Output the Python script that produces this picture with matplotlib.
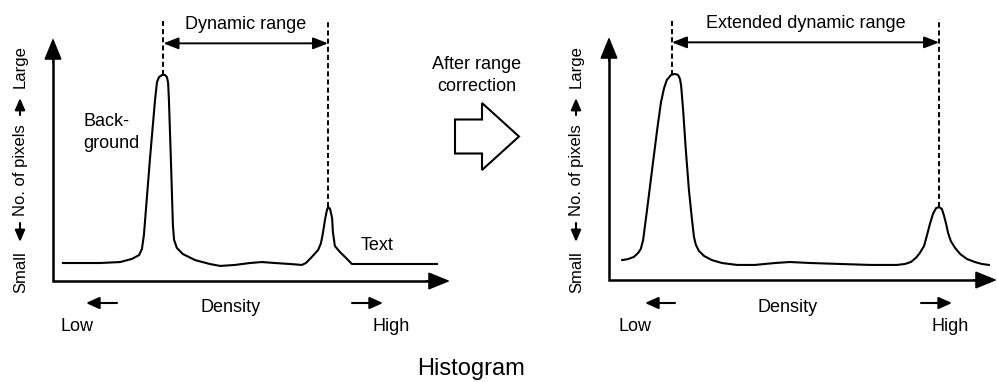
import matplotlib
matplotlib.use("Agg")
import matplotlib.pyplot as plt
from matplotlib.patches import FancyArrow

plt.rcParams['font.family'] = ['Liberation Sans', 'DejaVu Sans']

# Histogram before range correction (density 0-100, relative pixel count 0-100)
before_density = [2.5, 11.8, 16.9, 19.9, 21.7, 22.4, 22.9, 24.4, 25.7, 26.2, 26.7, 27.5,
                  28.2, 28.7, 29.0, 29.2, 29.7, 30.2, 30.5, 31.2, 32.7, 35.8, 39.5, 42.1,
                  45.8, 49.6, 52.6, 55.9, 59.7, 62.7, 63.7, 65.2, 66.8, 67.5, 68.0, 68.5,
                  69.0, 69.3, 69.8, 70.3, 70.5, 71.0, 72.3, 73.8, 75.3, 96.7]
before_count = [7.4, 7.4, 7.8, 9.1, 10.7, 13.2, 18.9, 49.8, 74.5, 81.9, 83.9, 84.8,
                84.8, 83.9, 81.5, 74.5, 49.8, 23.0, 16.9, 13.6, 11.1, 8.6, 7.0, 6.2,
                6.6, 7.4, 7.8, 7.4, 7.0, 6.6, 7.4, 9.9, 12.8, 15.6, 19.8, 25.1,
                29.2, 30.5, 29.6, 25.9, 20.2, 14.4, 11.9, 9.5, 7.0, 7.0]
before_peaks = [27.8, 69.3]   # background peak, text peak

# Histogram after range correction
after_density = [3.4, 4.9, 6.4, 7.5, 8.2, 8.8, 9.8, 11.1, 12.4, 13.4, 14.2, 14.9, 16.0,
                 17.0, 17.8, 18.3, 18.6, 19.1, 19.8, 20.6, 21.4, 21.9, 22.4, 23.2, 24.5,
                 26.5, 29.1, 33.0, 37.6, 42.8, 46.6, 51.8, 59.5, 67.3, 74.2, 76.3, 77.8,
                 79.1, 80.1, 81.2, 81.9, 82.7, 83.5, 84.3, 85.1, 85.8, 86.3, 86.9, 87.4,
                 88.1, 89.2, 90.5, 92.3, 94.3, 96.1, 97.9]
after_count = [8.2, 8.6, 9.5, 11.1, 12.8, 16.5, 28.8, 45.3, 61.7, 73.2, 79.0, 82.3, 84.4,
               84.8, 84.4, 82.7, 79.8, 70.0, 53.5, 37.0, 24.7, 17.7, 14.4, 11.9, 9.9,
               8.2, 7.0, 6.2, 6.2, 7.0, 7.4, 7.0, 6.6, 6.2, 6.2, 6.6, 7.4,
               9.1, 11.1, 14.0, 18.1, 23.0, 27.2, 29.6, 30.0, 29.2, 26.7, 23.0, 19.3,
               16.0, 13.2, 10.7, 8.6, 7.4, 6.6, 6.2]
after_peaks = [16.2, 85.1]

W, H = 997, 382
fig = plt.figure(figsize=(W / 100, H / 100), dpi=100)

# full-figure layer in pixel units for labels and decorations
ov = fig.add_axes([0, 0, 1, 1])
ov.set_xlim(0, W)
ov.set_ylim(H, 0)
ov.axis('off')

FS = 13


def small_arrow(x0, y0, x1, y1, hl=0.8, hw=0.36):
    ov.annotate('', xy=(x1, y1), xytext=(x0, y0),
                arrowprops=dict(arrowstyle=f'-|>,head_length={hl},head_width={hw}',
                                color='black', lw=1.5, mutation_scale=10,
                                shrinkA=0, shrinkB=0))


def panel(left_px, axis_y_px, right_px, top_px, dens, cnt, peaks, span_label):
    rect = [left_px / W, 1 - axis_y_px / H, (right_px - left_px) / W,
            (axis_y_px - top_px) / H]
    ax = fig.add_axes(rect)
    ax.set_xlim(0, 100)
    ax.set_ylim(0, 100)
    ax.axis('off')

    # axes with arrow heads
    ax.plot([0, 0, 97], [96, 0, 0], color='black', lw=1.8,
            solid_joinstyle='miter', solid_capstyle='butt', clip_on=False)
    for tip, tail in (((0, 100), (0, 90)), ((100, 0), (94, 0))):
        ax.annotate('', xy=tip, xytext=tail, annotation_clip=False,
                    arrowprops=dict(arrowstyle='-|>,head_length=1.35,head_width=0.55',
                                    color='black', lw=1.2, mutation_scale=10,
                                    shrinkA=0, shrinkB=0))

    # histogram curve
    ax.plot(dens, cnt, color='black', lw=1.5, solid_joinstyle='round', clip_on=False)

    # dashed markers at the two peaks and the range arrow between them
    for p in peaks:
        i = min(range(len(dens)), key=lambda k: abs(dens[k] - p))
        ax.plot([p, p], [cnt[i], 107.4], color='black', lw=1.4,
                dashes=(2.6, 1.6), clip_on=False)
    ax.annotate('', xy=(peaks[1], 97.8), xytext=(peaks[0], 97.8), annotation_clip=False,
                arrowprops=dict(arrowstyle='<|-|>,head_length=0.9,head_width=0.35',
                                color='black', lw=1.4, mutation_scale=10,
                                shrinkA=0, shrinkB=0))
    ax.text((peaks[0] + peaks[1]) / 2, 103.6, span_label, ha='center', va='baseline',
            fontsize=FS, clip_on=False)

    # rotated axis label
    bx = left_px - 28
    axx = left_px - 33
    for txt, yc in (("Small", 272), ("No. of pixels", 170), ("Large", 66.5)):
        ov.text(bx, yc, txt, rotation=90, rotation_mode='anchor', ha='center',
                va='baseline', fontsize=12)
    small_arrow(axx, 223, axx, 242, hl=0.7, hw=0.3)
    small_arrow(axx, 115, axx, 98, hl=0.7, hw=0.3)
    return ax


panel(53, 281, 450, 38, before_density, before_count, before_peaks, "Dynamic range")
panel(609, 280, 997, 37, after_density, after_count, after_peaks, "Extended dynamic range")

# labels under and inside the panels
ov.text(83, 126, "Back-", ha='left', va='baseline', fontsize=FS)
ov.text(83, 148, "ground", ha='left', va='baseline', fontsize=FS)
ov.text(361, 250, "Text", ha='left', va='baseline', fontsize=FS)
for xc, lo, hi, (la, lb), (ha_, hb) in ((231, 77, 391, (117, 86), (352, 383)),
                                         (788, 635, 950, (675, 645), (921, 952))):
    ov.text(xc, 312, "Density", ha='center', va='baseline', fontsize=FS)
    ov.text(lo, 331, "Low", ha='center', va='baseline', fontsize=FS)
    ov.text(hi, 331, "High", ha='center', va='baseline', fontsize=FS)
    small_arrow(la, 303, lb, 303)
    small_arrow(ha_, 303, hb, 303)

# transition arrow
ov.text(477, 69, "After range", ha='center', va='baseline', fontsize=FS)
ov.text(477, 91, "correction", ha='center', va='baseline', fontsize=FS)
ov.add_patch(FancyArrow(455, 136.5, 64, 0, width=34, head_width=67, head_length=37,
                        length_includes_head=True, facecolor='white', edgecolor='black',
                        lw=1.5, joinstyle='miter'))

ov.text(471, 375.5, "Histogram", ha='center', va='baseline', fontsize=17)

fig.savefig("out.png", dpi=100)
